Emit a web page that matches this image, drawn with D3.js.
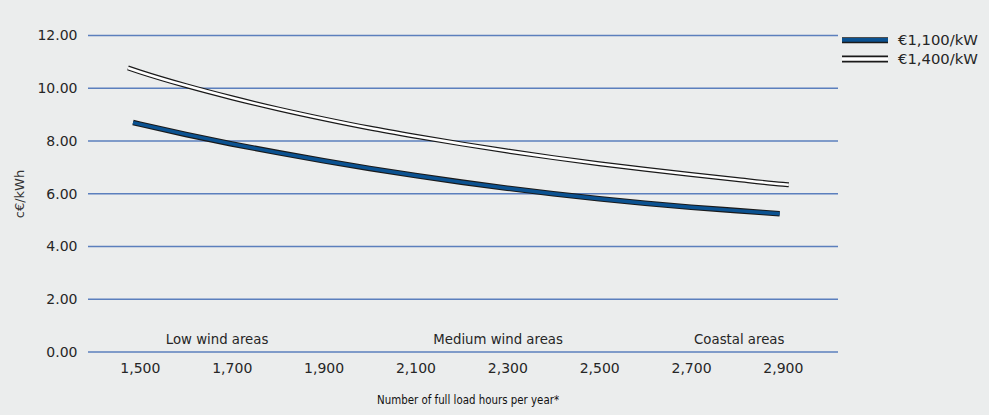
<!DOCTYPE html>
<html>
<head>
<meta charset="utf-8">
<script src="https://cdn.jsdelivr.net/npm/d3@7"></script>
<style>
  html, body { margin: 0; padding: 0; background: #ebeded; }
  svg { display: block; }
</style>
</head>
<body>
<svg id="chart" width="989" height="415"></svg>
<script>
// ---- data ----
const seriesNames = ["€1,100/kW", "€1,400/kW"];
const hours1100 = [1485, 1500, 1600, 1700, 1800, 1900, 2000, 2100, 2200, 2300, 2400, 2500, 2600, 2700, 2800, 2893];
const values1100 = [8.70, 8.64, 8.25, 7.89, 7.56, 7.25, 6.96, 6.69, 6.44, 6.21, 6.00, 5.81, 5.64, 5.49, 5.36, 5.24];
const hours1400 = [1474, 1500, 1600, 1700, 1800, 1900, 2000, 2100, 2200, 2300, 2400, 2500, 2600, 2700, 2800, 2900, 2913];
const values1400 = [10.77, 10.62, 10.10, 9.64, 9.22, 8.84, 8.49, 8.18, 7.89, 7.62, 7.37, 7.14, 6.93, 6.73, 6.54, 6.36, 6.34];
const xTicks = [1500, 1700, 1900, 2100, 2300, 2500, 2700, 2900];
const yTicks = [0, 2, 4, 6, 8, 10, 12];
const areaLabels = ["Low wind areas", "Medium wind areas", "Coastal areas"];
const areaCenters = [1668, 2280, 2805];
const yTitle = "c€/kWh";
const xTitle = "Number of full load hours per year*";

(function () {
// ---- layout ----
const svg = d3.select("#chart");
const mLeft = 88, mRight = 838, mTop = 35.5, mBottom = 352;
const x = d3.scaleLinear().domain([1387, 3020]).range([mLeft, mRight]);
const y = d3.scaleLinear().domain([0, 12]).range([mBottom, mTop]);

const gridColor = "#5b7fbd";
const textColor = "#262626";
const font = "'DejaVu Sans', sans-serif";

// gridlines
svg.append("g").selectAll("line").data(yTicks).join("line")
  .attr("x1", mLeft).attr("x2", mRight)
  .attr("y1", d => y(d)).attr("y2", d => y(d))
  .attr("stroke", gridColor).attr("stroke-width", 1.7);

// y axis labels
const yAxis = d3.axisLeft(y).tickValues(yTicks).tickFormat(d3.format(".2f")).tickSize(0).tickPadding(0);
const gy = svg.append("g").attr("transform", `translate(${mLeft - 10.5},0)`).call(yAxis);
gy.select(".domain").remove();
gy.selectAll("text").attr("font-family", font).attr("font-size", 14).attr("fill", textColor);

// x axis labels
const xAxis = d3.axisBottom(x).tickValues(xTicks).tickFormat(d3.format(",")).tickSize(0).tickPadding(0);
const gx = svg.append("g").attr("transform", `translate(0,${mBottom + 11})`).call(xAxis);
gx.select(".domain").remove();
gx.selectAll("text").attr("font-family", font).attr("font-size", 14).attr("fill", textColor);

// area labels
svg.append("g").selectAll("text").data(areaLabels).join("text")
  .attr("x", (d, i) => x(areaCenters[i]))
  .attr("y", mBottom - 8)
  .attr("text-anchor", "middle")
  .attr("font-family", font).attr("font-size", 13.3)
  .attr("fill", textColor)
  .text(d => d);

// titles
svg.append("text")
  .attr("transform", `translate(24,194) rotate(-90)`)
  .attr("text-anchor", "middle")
  .attr("font-family", font).attr("font-size", 13)
  .attr("fill", "#333")
  .text(yTitle);

svg.append("text")
  .attr("x", 468).attr("y", 404)
  .attr("text-anchor", "middle")
  .attr("font-family", "'Liberation Sans Narrow', 'DejaVu Sans Condensed', sans-serif")
  .attr("font-size", 11.5)
  .attr("fill", "#111")
  .attr("textLength", 182).attr("lengthAdjust", "spacingAndGlyphs")
  .text(xTitle);

// lines
const line = d3.line().x(d => x(d[0])).y(d => y(d[1])).curve(d3.curveMonotoneX);
const data1100 = hours1100.map((h, i) => [h, values1100[i]]);
const data1400 = hours1400.map((h, i) => [h, values1400[i]]);

const g = svg.append("g");
g.append("path").attr("d", line(data1400)).attr("fill", "none")
  .attr("stroke", "#1a1a1a").attr("stroke-width", 5);
g.append("path").attr("d", line(data1400)).attr("fill", "none")
  .attr("stroke", "#ffffff").attr("stroke-width", 2.6);

g.append("path").attr("d", line(data1100)).attr("fill", "none")
  .attr("stroke", "#1a1a1a").attr("stroke-width", 5.6);
g.append("path").attr("d", line(data1100)).attr("fill", "none")
  .attr("stroke", "#0b5291").attr("stroke-width", 3.4);

// legend
const legY = [40.3, 59];
const leg = svg.append("g");
leg.append("line").attr("x1", 842).attr("x2", 888).attr("y1", legY[0]).attr("y2", legY[0])
  .attr("stroke", "#1a1a1a").attr("stroke-width", 6);
leg.append("line").attr("x1", 842).attr("x2", 888).attr("y1", legY[0] - 0.4).attr("y2", legY[0] - 0.4)
  .attr("stroke", "#0b5291").attr("stroke-width", 3.6);
leg.append("line").attr("x1", 842).attr("x2", 888).attr("y1", legY[1]).attr("y2", legY[1])
  .attr("stroke", "#1a1a1a").attr("stroke-width", 7);
leg.append("line").attr("x1", 842).attr("x2", 888).attr("y1", legY[1]).attr("y2", legY[1])
  .attr("stroke", "#ffffff").attr("stroke-width", 3.6);

leg.selectAll("text").data(seriesNames).join("text")
  .attr("x", 898).attr("y", (d, i) => legY[i] + 5)
  .attr("font-family", font).attr("font-size", 14.8)
  .attr("fill", textColor)
  .text(d => d);
})();
</script>
</body>
</html>
